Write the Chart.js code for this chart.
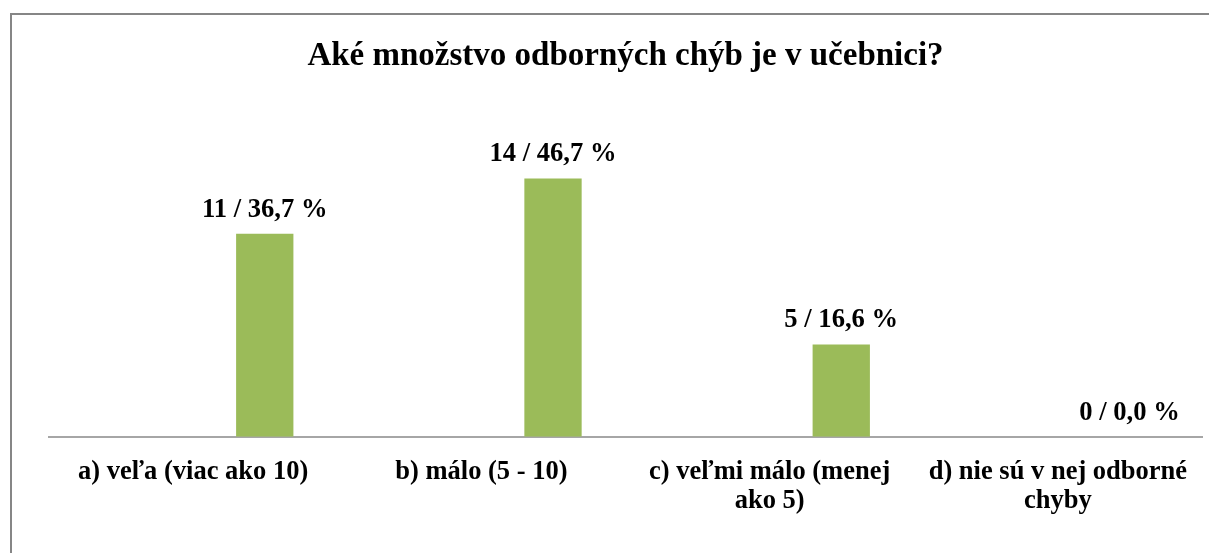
<!DOCTYPE html>
<html>
<head>
<meta charset="utf-8">
<script src="https://cdn.jsdelivr.net/npm/chart.js@4/dist/chart.umd.min.js"></script>
<style>
body{margin:0;background:#fff;}
#wrap{width:1209px;height:553px;position:relative;}
</style>
</head>
<body>
<div id="wrap"><canvas id="errChart" width="1209" height="553"></canvas></div>
<script>

// CHART DATA
const categories=[
"a) veľa (viac ako 10)",
"b) málo (5 - 10)",
["c) veľmi málo (menej","ako 5)"],
["d) nie sú v nej odborné","chyby"]
];
const counts=[11,14,5,0];
const valueLabels=["11 / 36,7 %","14 / 46,7 %","5 / 16,6 %","0 / 0,0 %"];
const emptySeries=[null,null,null,null];

const serif="'Liberation Serif','Times New Roman',serif";


// OUTER FRAME
const framePlugin={
id:"frame",
beforeDraw(chart){
const c=chart.ctx;
c.save();
c.fillStyle="#fff";
c.fillRect(0,0,chart.width,chart.height);
c.strokeStyle="#868686";
c.lineWidth=2;
c.strokeRect(11,14,1260,600);
c.restore();
}
};


// VALUE LABELS ABOVE BARS
const valuePlugin={
id:"values",
afterDatasetsDraw(chart){
const c=chart.ctx;
const meta=chart.getDatasetMeta(1);
c.save();
c.font="bold 26.6px "+serif;
c.fillStyle="#000";
c.textAlign="center";
c.textBaseline="middle";
meta.data.forEach((bar,i)=>{
c.fillText(valueLabels[i],bar.x,bar.y-24);
});
c.restore();
}
};


const ctx=document.getElementById("errChart").getContext("2d");

const errChart=new Chart(ctx,{
type:"bar",
data:{
labels:categories,
datasets:[
{
label:"",
data:emptySeries,
backgroundColor:"rgba(0,0,0,0)"
},
{
label:"Počet",
data:counts,
backgroundColor:"#9BBB59"
}
]
},
options:{
responsive:false,
animation:false,
categoryPercentage:0.994,
barPercentage:0.4,
layout:{
padding:{left:49,right:7,top:0,bottom:16}
},
plugins:{
legend:{display:false},
tooltip:{enabled:false},
title:{
display:true,
text:"Aké množstvo odborných chýb je v učebnici?",
color:"#000",
font:{family:serif,size:33,weight:"bold",lineHeight:1.2},
padding:{top:37,bottom:65}
}
},
scales:{
y:{
display:false,
min:0,
max:16
},
x:{
grid:{display:false,drawTicks:false},
border:{display:true,color:"#A6A6A6",width:2},
ticks:{
color:"#000",
maxRotation:0,
autoSkip:false,
padding:21,
font:{family:serif,size:26.5,weight:"bold",lineHeight:1.1}
}
}
}
},
plugins:[framePlugin,valuePlugin]
});

</script>
</body>
</html>
